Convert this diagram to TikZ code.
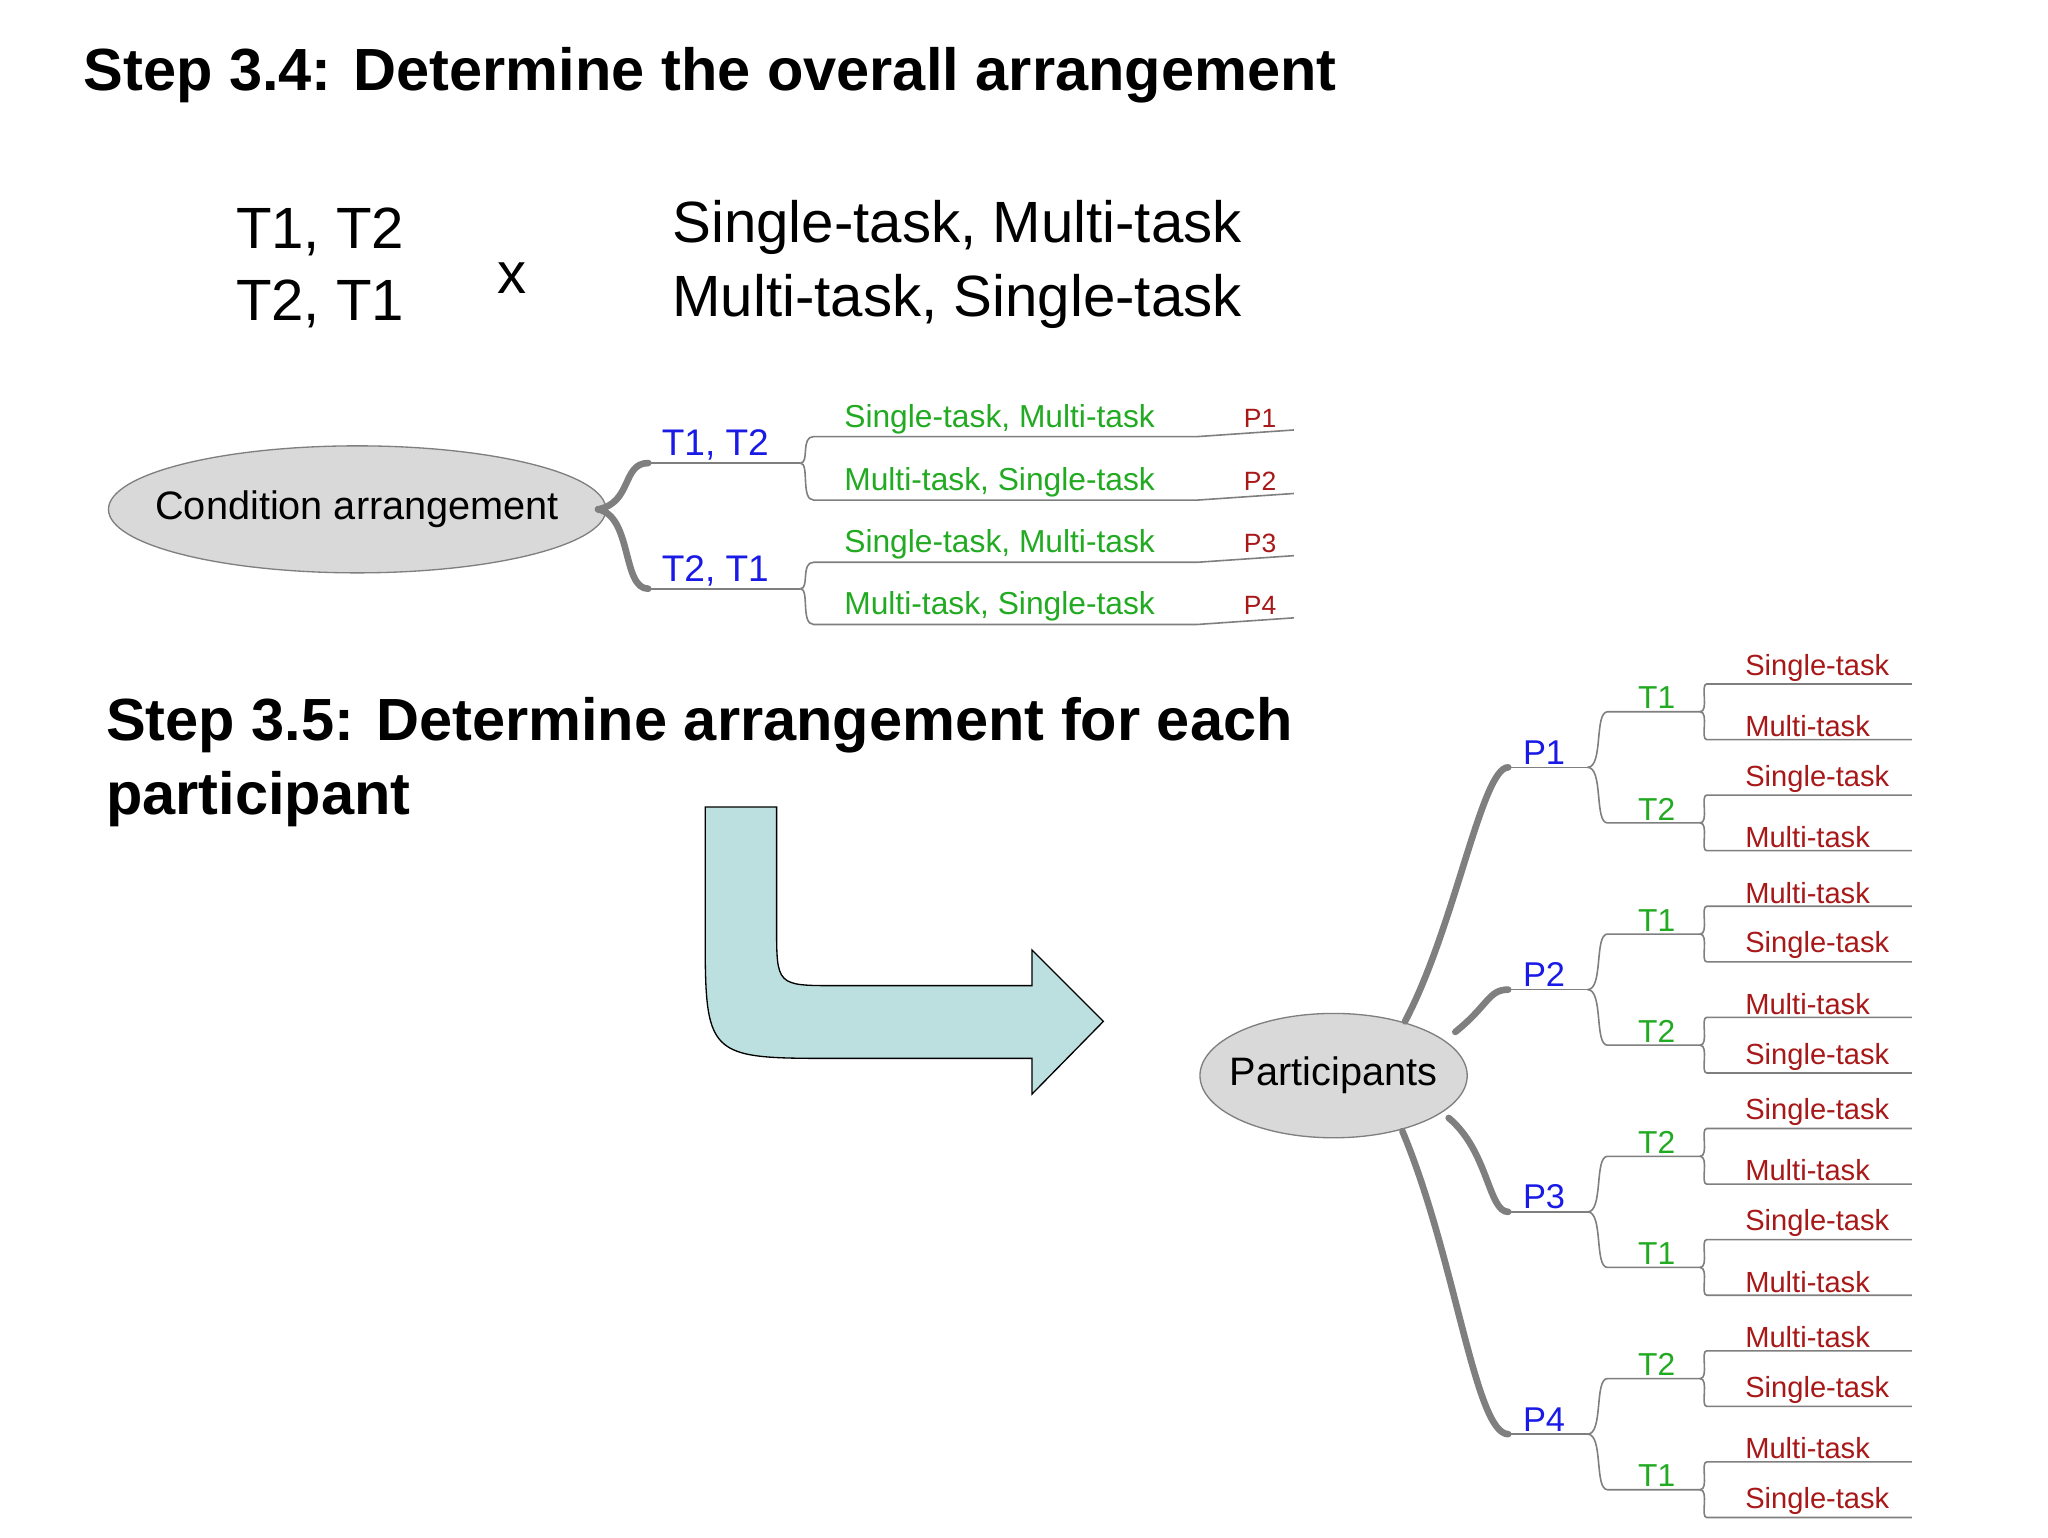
\documentclass[tikz,border=0pt]{standalone}
\usepackage{fontspec}
\setmainfont{Liberation Sans}
\usetikzlibrary{shapes.geometric}
\definecolor{cblue}{HTML}{1A1AE6}
\definecolor{cgreen}{HTML}{22AA22}
\definecolor{cred}{HTML}{A81818}
\definecolor{cgray}{HTML}{7F7F7F}
\definecolor{arrowfill}{HTML}{BCE0E0}
\begin{document}
\begin{tikzpicture}[x=1pt,y=-1pt,
  title/.style={font=\fontsize{45}{50}\selectfont\bfseries,anchor=west,inner sep=0},
  big/.style={font=\fontsize{44}{50}\selectfont,inner sep=0},
  lab/.style={font=\fontsize{#1}{#1}\selectfont,anchor=south west,inner sep=2pt},
  thin/.style={draw=cgray,line width=1.2pt},
  thick/.style={draw=cgray,line width=5pt,line cap=round},
  ovalbg/.style={draw=cgray,fill=gray!30,line width=1pt},
  ovaltext/.style={inner sep=0,font=\fontsize{30}{30}\selectfont}]
\useasboundingbox (0,0) rectangle (1548,1162);
\fill[white] (0,0) rectangle (1548,1162);
\node[title] (t1) at (63,57) {Step 3.4: Determine the overall arrangement};
\node[big] (a1) at (242,175) {T1, T2};
\node[big] (a2) at (242,230) {T2, T1};
\node[big] (ax) at (387,210) {x};
\node[big,anchor=west] (b1) at (508,172) {Single-task, Multi-task};
\node[big,anchor=west] (b2) at (508,228) {Multi-task, Single-task};
\node[title] (t2) at (80,548) {Step 3.5: Determine arrangement for each};
\node[title] (t3) at (80,604) {participant};
% upper tree
\draw[ovalbg] (270,385) ellipse [x radius=188, y radius=48];
\node[ovaltext] (ca) at (270,385) {Condition arrangement};
\coordinate (cae) at (452,385);
\foreach \n/\y/\t in {A/350/{T1, T2},B/445/{T2, T1}}{
  \coordinate (\n s) at (490,\y); \coordinate (\n e) at (605,\y);
  \draw[thin] (\n s)--(\n e);
  \node[lab=28,text=cblue] (\n l) at (498,\y) {\t};
}
\draw[thick] (cae) .. controls (478,380) and (470,350) .. (As);
\draw[thick] (cae) .. controls (478,390) and (470,445) .. (Bs);
\foreach \n/\y/\t/\p/\pp/\py in {1/330/{Single-task, Multi-task}/P1/A/350,2/378/{Multi-task, Single-task}/P2/A/350,3/425/{Single-task, Multi-task}/P3/B/445,4/472/{Multi-task, Single-task}/P4/B/445}{
  \coordinate (L\n s) at (615,\y); \coordinate (L\n e) at (905,\y);
  \coordinate (Q\n e) at (978,\y-5);
  \draw[thin] (\pp e) .. controls (612,\py) and (605,\y) .. (L\n s) -- (L\n e) -- (Q\n e);
  \node[lab=24,text=cgreen] (L\n l) at (636,\y) {\t};
  \node[lab=20,text=cred] (Q\n l) at (938,\y-5) {\p};
}
% arrow
\draw[fill=arrowfill,line width=1pt] (533,610)--(587,610)--(587,700) .. controls (587,745) .. (632,745) -- (780,745)--(780,718)--(834,772)--(780,827)--(780,800)--(633,800) .. controls (533,800) .. (533,700) -- cycle;
% lower tree
\draw[ovalbg] (1008,813) ellipse [x radius=101, y radius=47];
\node[ovaltext] (pa) at (1008,813) {Participants};
\foreach \i/\y/\ta/\tb/\la/\lb/\lc/\ld in {
 1/580/T1/T2/Single-task/Multi-task/Single-task/Multi-task,
 2/748/T1/T2/Multi-task/Single-task/Multi-task/Single-task,
 3/916/T2/T1/Single-task/Multi-task/Single-task/Multi-task,
 4/1084/T2/T1/Multi-task/Single-task/Multi-task/Single-task}{
  \coordinate (P\i s) at (1140,\y); \coordinate (P\i e) at (1200,\y);
  \draw[thin] (P\i s)--(P\i e);
  \node[lab=26,text=cblue] (P\i l) at (1149,\y) {P\i};
  \foreach \j/\dy/\tt/\x/\z in {a/-42/\ta/\la/\lb,b/42/\tb/\lc/\ld}{
    \coordinate (T\i\j s) at (1215,\y+\dy); \coordinate (T\i\j e) at (1285,\y+\dy);
    \draw[thin] (P\i e) .. controls (1212,\y) and (1205,\y+\dy) .. (T\i\j s) -- (T\i\j e);
    \node[lab=24,text=cgreen] (T\i\j l) at (1236,\y+\dy) {\tt};
    \coordinate (U\i\j1) at (1290,\y+\dy-21); \coordinate (U\i\j2) at (1290,\y+\dy+21);
    \draw[thin] (T\i\j e) .. controls (1292,\y+\dy) and (1285,\y+\dy-21) .. (U\i\j1) -- ++(155,0);
    \draw[thin] (T\i\j e) .. controls (1292,\y+\dy) and (1285,\y+\dy+21) .. (U\i\j2) -- ++(155,0);
    \node[lab=22,text=cred] (V\i\j1) at (1317,\y+\dy-21) {\x};
    \node[lab=22,text=cred] (V\i\j2) at (1317,\y+\dy+21) {\z};
  }
}
\draw[thick] (1062,772) .. controls (1100,700) and (1120,580) .. (P1s);
\draw[thick] (1100,780) .. controls (1125,760) and (1125,748) .. (P2s);
\draw[thick] (1095,845) .. controls (1125,870) and (1125,916) .. (P3s);
\draw[thick] (1060,855) .. controls (1100,950) and (1115,1084) .. (P4s);
\end{tikzpicture}
\end{document}
